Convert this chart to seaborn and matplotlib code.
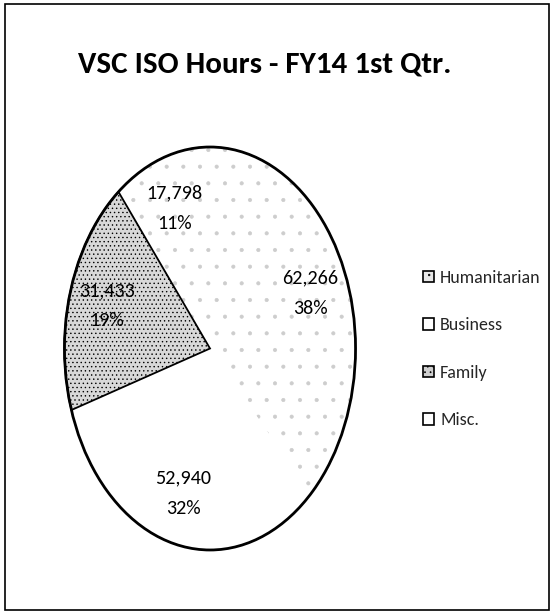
import matplotlib
matplotlib.use("Agg")
import matplotlib.pyplot as plt
from matplotlib.patches import Circle, Patch, Rectangle
import seaborn as sns

# Quarterly volunteer hours by category
categories = ["Humanitarian", "Business", "Family", "Misc."]
hours = [62266, 52940, 31433, 17798]
title = "VSC ISO Hours - FY14 1st Qtr."

sns.set_theme(style="white")
plt.rcParams["font.family"] = ["Carlito", "DejaVu Sans"]

# Print look: light fills with stipple hatching
face_colors = ["white", "white", "#d8d8d8", "white"]
hatch_colors = ["#cdcdcd", "#cdcdcd", "black", "#cdcdcd"]
hatches = [".", None, "....", "."]
plt.rcParams["hatch.linewidth"] = 0.5

fig = plt.figure(figsize=(5.52, 6.13), dpi=100)
fig.patch.set_facecolor("white")
ax = fig.add_axes([63 / 552, 1 - 552 / 613, 294 / 552, 407 / 613])

total = sum(hours)


def fmt(pct):
    value = int(round(pct * total / 100.0))
    return f"{value:,}\n{pct:.0f}%"


wedges, texts, autotexts = ax.pie(
    hours,
    startangle=90,
    counterclock=False,
    autopct=fmt,
    pctdistance=0.74,
    wedgeprops=dict(linewidth=0),
    textprops=dict(fontsize=14.5, color="black", linespacing=1.95),
)
for w, fc, hc, h in zip(wedges, face_colors, hatch_colors, hatches):
    w.set_facecolor(fc)
    w.set_edgecolor(hc)
    w.set_linewidth(0)
    if h:
        w.set_hatch(h)

# Family slice keeps its outline
family = wedges[categories.index("Family")]
family.set_edgecolor("black")
family.set_linewidth(1.3)
family.set_zorder(3)
for t in autotexts:
    t.set_zorder(5)

ax.add_patch(Circle((0, 0), 1.0, fill=False, edgecolor="black", linewidth=2.0, zorder=4))
ax.set_aspect("auto")
ax.set_xlim(-1.01, 1.01)
ax.set_ylim(-1.01, 1.01)
ax.axis("off")

fig.text(265 / 552, 1 - 72 / 613, title, ha="center", va="baseline",
         fontsize=22.3, fontweight="bold", color="black")

handles = [
    Patch(facecolor=fc, edgecolor="black", hatch=h, linewidth=1.2, label=c)
    for c, fc, h in zip(categories, ["#e8e8e8", "white", "#cfcfcf", "white"],
                        ["..", None, "...", None])
]
fig.legend(
    handles=handles,
    loc="center left",
    bbox_to_anchor=(423 / 552, 1 - 349 / 613),
    frameon=False,
    fontsize=13,
    handlelength=0.6,
    handleheight=0.6,
    handletextpad=0.35,
    labelspacing=1.75,
    borderpad=0,
    borderaxespad=0,
)

# Page border
fig.patches.append(Rectangle((5 / 552, 3 / 613), 544 / 552, 606 / 613,
                             transform=fig.transFigure, fill=False,
                             edgecolor="black", linewidth=1.2))

fig.savefig("out.png", dpi=100, facecolor="white")
